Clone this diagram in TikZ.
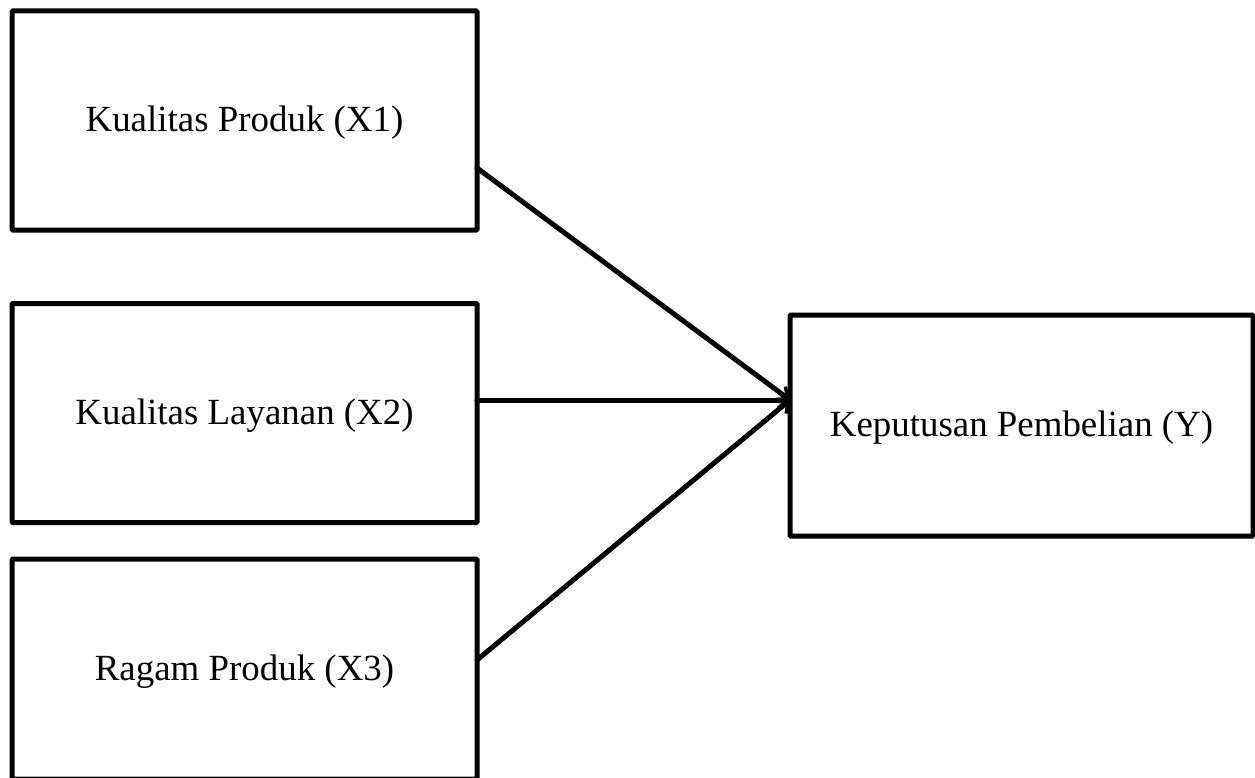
\documentclass[tikz,border=0pt]{standalone}
\usepackage{fontspec}
\setmainfont{Liberation Serif}
\usetikzlibrary{arrows.meta}
\begin{document}
\begin{tikzpicture}[x=1pt,y=-1pt,
  varbox/.style={draw=black, line width=5pt, rectangle, rounded corners=1pt,
    minimum width=465pt, minimum height=219pt, inner sep=0pt, outer sep=0pt,
    text depth=0pt, text height=22pt,
    font=\fontsize{36.9}{44}\selectfont},
  link/.style={line width=5pt, -{Straight Barb[length=9pt,width=16pt,line width=3.5pt]}, line cap=round}]
\useasboundingbox (0,0) rectangle (1255,778);
\fill[white] (0,0) rectangle (1255,778);
\node[varbox] (X1) at (244.5,120.5) {Kualitas Produk (X1)};
\node[varbox] (X2) at (244.5,413) {Kualitas Layanan (X2)};
\node[varbox, minimum height=220pt] (X3) at (244.5,669) {Ragam Produk (X3)};
\node[varbox, minimum width=463pt, minimum height=221pt] (Y) at (1021.5,425.5) {Keputusan Pembelian (Y)};
\coordinate (t) at ([yshift=25.5pt]Y.west);
\draw[link] ([yshift=-47.5pt]X1.east) -- (t);
\draw[link] ([yshift=13pt]X2.east) -- (t);
\draw[link] ([yshift=9pt]X3.east) -- (t);
\end{tikzpicture}
\end{document}
